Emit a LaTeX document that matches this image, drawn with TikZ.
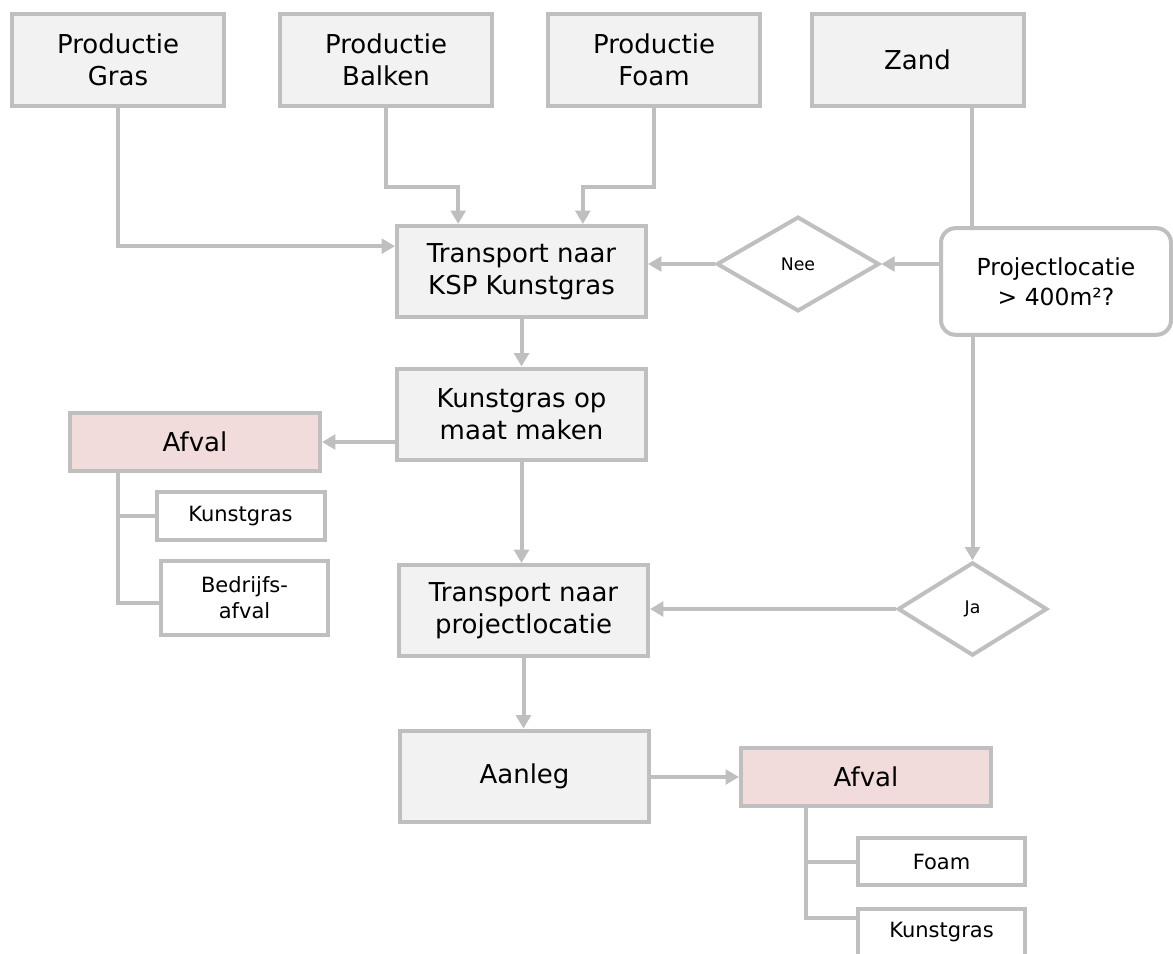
\documentclass[tikz,border=0pt]{standalone}
\usepackage{fontspec}
\setmainfont{DejaVu Sans}
\usepackage{tikz}
\usetikzlibrary{shapes.geometric, arrows.meta, positioning, calc}
\definecolor{FlowGray}{HTML}{BFBFBF}
\definecolor{FlowFill}{HTML}{F2F2F2}
\definecolor{WastePink}{HTML}{F2DCDB}

\begin{document}
\begin{tikzpicture}[x=0.75pt, y=-0.75pt,
    stage/.style={draw=FlowGray, line width=3pt, fill=FlowFill, inner sep=0pt, align=center,
        minimum width=186.75pt, minimum height=68.25pt, font=\fontsize{19.5pt}{24pt}\selectfont},
    source/.style={stage, minimum width=159pt, minimum height=69pt},
    waste/.style={stage, fill=WastePink, minimum width=187.5pt, minimum height=43.5pt},
    item/.style={draw=FlowGray, line width=3pt, fill=white, inner sep=0pt, align=center,
        minimum width=126pt, minimum height=35.5pt, font=\fontsize{15.75pt}{19.5pt}\selectfont},
    choice/.style={diamond, draw=FlowGray, line width=3pt, fill=white, inner sep=0pt,
        font=\fontsize{13pt}{15pt}\selectfont},
    query/.style={draw=FlowGray, line width=3pt, fill=white, rounded corners=11pt, inner sep=0pt,
        align=center, minimum width=172.5pt, minimum height=80pt, font=\fontsize{17.6pt}{22.5pt}\selectfont},
    flow/.style={draw=FlowGray, line width=3pt, -{Triangle[length=10pt,width=11pt]}},
    branch/.style={draw=FlowGray, line width=3pt}]

    \useasboundingbox (0,0) rectangle (1173,953);

    % === Sources ===
    \node[source] (gras)   at (118,60)   {Productie\\Gras};
    \node[source] (balken) at (386,60)   {Productie\\Balken};
    \node[source] (foam)   at (654,60)   {Productie\\Foam};
    \node[source] (zand)   at (917.5,60) {Zand};

    % === Main chain ===
    \node[stage] (ksp)    at (521.5,271.5) {Transport naar\\KSP Kunstgras};
    \node[stage] (maat)   at (521.5,414)   {Kunstgras op\\maat maken};
    \node[stage] (proj)   at (523.5,610.5) {Transport naar\\projectlocatie};
    \node[stage] (aanleg) at (524.5,776)   {Aanleg};

    % === Decision ===
    \node[query] (area) at (1056,281.5) {Projectlocatie\\> 400m²?};
    \node[choice, minimum width=122pt, minimum height=71pt] (nee) at (798,264) {Nee};
    \node[choice, minimum width=112pt, minimum height=70pt] (ja)  at (972.5,609) {Ja};

    % === Waste ===
    \node[waste] (afvalA) at (195,442) {Afval};
    \node[item] (kgA)     at (240.5,516) {Kunstgras};
    \node[item, minimum width=125pt, minimum height=55.5pt] (bedrijf) at (244.5,598) {Bedrijfs-\\afval};
    \node[waste, minimum height=43pt] (afvalB) at (866,777) {Afval};
    \node[item, minimum width=125pt] (foamB) at (941.5,861.5) {Foam};
    \node[item, minimum width=125pt] (kgB)   at (941.5,932.5) {Kunstgras};

    % Inputs to transport
    \coordinate (inA) at ([xshift=-47.5pt]ksp.north);
    \coordinate (inB) at ([xshift=46pt]ksp.north);
    \draw[flow] (gras.south) |- ([yshift=19pt]ksp.west);
    \draw[flow] (balken.south) -- ++(0,79) -| (inA);
    \draw[flow] (foam.south) -- ++(0,79) -| (inB);

    % Zand through the question
    \coordinate (areaTop) at ([xshift=-63pt]area.north);
    \draw[branch] (zand.south -| areaTop) -- (areaTop);
    \draw[flow] (area.west |- nee) -- (nee.east);
    \draw[flow] (nee.west) -- (nee.west -| ksp.east);
    \draw[flow] (ja.north |- area.south) -- (ja.north);
    \draw[flow] (ja.west) -- (ja.west -| proj.east);

    % Chain
    \draw[flow] (ksp) -- (maat);
    \draw[flow] (maat.south) -- (maat.south |- proj.north);
    \draw[flow] (proj.south) -- (proj.south |- aanleg.north);
    \draw[flow] (afvalA.east -| maat.west) -- (afvalA.east);
    \draw[flow] (aanleg.east |- afvalB.west) -- (afvalB.west);

    % Waste trees
    \draw[branch] ([xshift=37.5pt]afvalA.south west) |- (kgA.west);
    \draw[branch] ([xshift=37.5pt]afvalA.south west) |- ([yshift=-4pt]bedrijf.west);
    \draw[branch] ([xshift=50pt]afvalB.south west) |- (foamB.west);
    \draw[branch] ([xshift=50pt]afvalB.south west) |- ([yshift=11pt]kgB.west);

\end{tikzpicture}
\end{document}
